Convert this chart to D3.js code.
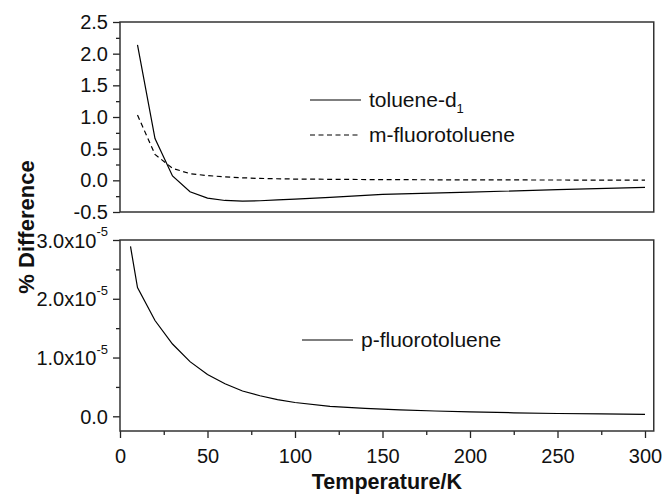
<!DOCTYPE html>
<html>
<head>
<meta charset="utf-8">
<script src="https://cdn.jsdelivr.net/npm/d3@7"></script>
<style>
  html, body { margin: 0; padding: 0; background: #fff; }
  svg text { font-family: "Liberation Sans", Arial, Helvetica, sans-serif; fill: #111; }
</style>
</head>
<body>
<svg id="chart" width="665" height="495"></svg>
<script>
// ---- Data ----
const tolueneT   = [10, 20, 30, 40, 50, 60, 70, 80, 90, 100, 120, 150, 200, 250, 300];
const tolueneVal = [2.14, 0.66, 0.07, -0.18, -0.28, -0.318, -0.328, -0.322, -0.31, -0.297, -0.27, -0.222, -0.185, -0.148, -0.11];

const mfluoroT   = [10, 20, 30, 40, 50, 60, 70, 80, 100, 150, 200, 250, 300];
const mfluoroVal = [1.03, 0.41, 0.19, 0.105, 0.075, 0.055, 0.04, 0.03, 0.02, 0.011, 0.007, 0.005, 0.004];

const pfluoroT   = [6, 10, 20, 30, 40, 50, 60, 70, 80, 90, 100, 120, 140, 160, 180, 200, 225, 250, 275, 300];
const pfluoroVal = [2.89e-5, 2.19e-5, 1.63e-5, 1.23e-5, 0.93e-5, 0.71e-5, 0.555e-5, 0.43e-5, 0.35e-5, 0.285e-5,
                    0.235e-5, 0.17e-5, 0.135e-5, 0.11e-5, 0.09e-5, 0.075e-5, 0.06e-5, 0.048e-5, 0.04e-5, 0.033e-5];

const xTicks      = [0, 50, 100, 150, 200, 250, 300];
const xMinorTicks = [25, 75, 125, 175, 225, 275];
const topYTicks   = [-0.5, 0.0, 0.5, 1.0, 1.5, 2.0, 2.5];
const topYLabels  = ["-0.5", "0.0", "0.5", "1.0", "1.5", "2.0", "2.5"];
const topYMinor   = [-0.25, 0.25, 0.75, 1.25, 1.75, 2.25];
const botYTicks   = [0, 1e-5, 2e-5, 3e-5];
const botYMant    = ["0.0", "1.0x10", "2.0x10", "3.0x10"];
const botYExp     = ["", "-5", "-5", "-5"];
const botYMinor   = [0.5e-5, 1.5e-5, 2.5e-5];

const legendTop = ["toluene-d", "m-fluorotoluene"];
const legendBot = ["p-fluorotoluene"];

// ---- Layout ----
const svg = d3.select("#chart");
const left = 120, right = 653.75;
const topPanel = {top: 22, bottom: 212};
const botPanel = {top: 240, bottom: 431};

const x = d3.scaleLinear().domain([0, 305]).range([left, right]);
const yTop = d3.scaleLinear().domain([-0.5, 2.5]).range([topPanel.bottom, topPanel.top]);
const yBot = d3.scaleLinear().domain([-0.25e-5, 3.0e-5]).range([botPanel.bottom, botPanel.top]);

const axisColor = "#222";

function styleAxis(g) {
  g.select(".domain").remove();
  g.selectAll(".tick line").attr("stroke", axisColor).attr("stroke-width", 1.3);
}

// Top panel y axis
svg.append("g").attr("transform", `translate(${left},0)`)
  .call(d3.axisLeft(yTop).tickValues(topYTicks).tickSize(7).tickPadding(5)
        .tickFormat((d, i) => topYLabels[i]))
  .call(styleAxis)
  .call(g => g.selectAll("text").attr("font-size", 20).attr("fill", "#111"));
svg.append("g").attr("transform", `translate(${left},0)`)
  .call(d3.axisLeft(yTop).tickValues(topYMinor).tickSize(4).tickFormat(""))
  .call(styleAxis);

// Bottom panel y axis
const botAxisG = svg.append("g").attr("transform", `translate(${left},0)`)
  .call(d3.axisLeft(yBot).tickValues(botYTicks).tickSize(7).tickFormat(""))
  .call(styleAxis);
botAxisG.selectAll(".tick").each(function(d, i) {
  const t = d3.select(this).append("text")
    .attr("x", -12).attr("dy", "0.35em")
    .attr("text-anchor", "end").attr("font-size", 20).attr("fill", "#111");
  t.append("tspan").text(botYMant[i]);
  if (botYExp[i]) {
    t.append("tspan").attr("font-size", 13).attr("dy", "-0.85em").text(botYExp[i]);
  }
});
svg.append("g").attr("transform", `translate(${left},0)`)
  .call(d3.axisLeft(yBot).tickValues(botYMinor).tickSize(4).tickFormat(""))
  .call(styleAxis);

// X axis (bottom panel)
svg.append("g").attr("transform", `translate(0,${botPanel.bottom})`)
  .call(d3.axisBottom(x).tickValues(xTicks).tickSize(7).tickPadding(11).tickFormat(d3.format("d")))
  .call(styleAxis)
  .call(g => g.selectAll("text").attr("font-size", 20).attr("fill", "#111"));
svg.append("g").attr("transform", `translate(0,${botPanel.bottom})`)
  .call(d3.axisBottom(x).tickValues(xMinorTicks).tickSize(4).tickFormat(""))
  .call(styleAxis);

// Frames
[topPanel, botPanel].forEach(p => {
  svg.append("rect")
    .attr("x", left).attr("y", p.top)
    .attr("width", right - left).attr("height", p.bottom - p.top)
    .attr("fill", "none").attr("stroke", "#333").attr("stroke-width", 1.5);
});

// Lines
const lineTop = d3.line().x(d => x(d[0])).y(d => yTop(d[1]));
const lineBot = d3.line().x(d => x(d[0])).y(d => yBot(d[1]));

svg.append("path").datum(d3.zip(tolueneT, tolueneVal))
  .attr("d", lineTop).attr("fill", "none").attr("stroke", "#000").attr("stroke-width", 1.2);
svg.append("path").datum(d3.zip(mfluoroT, mfluoroVal))
  .attr("d", lineTop).attr("fill", "none").attr("stroke", "#000").attr("stroke-width", 1.2)
  .attr("stroke-dasharray", "5,3.5");
svg.append("path").datum(d3.zip(pfluoroT, pfluoroVal))
  .attr("d", lineBot).attr("fill", "none").attr("stroke", "#000").attr("stroke-width", 1.2);

// Legends
function legendEntry(y, dashed, label, sub) {
  svg.append("line").attr("x1", 310).attr("x2", 361).attr("y1", y).attr("y2", y)
    .attr("stroke", "#000").attr("stroke-width", 1.2)
    .attr("stroke-dasharray", dashed ? "5,3.5" : null);
  const t = svg.append("text").attr("x", 369).attr("y", y).attr("dy", "0.35em")
    .attr("font-size", 21).attr("fill", "#111");
  t.append("tspan").text(label);
  if (sub) t.append("tspan").attr("font-size", 13).attr("dy", "0.45em").text(sub);
}
legendEntry(100, false, legendTop[0], "1");
legendEntry(135, true, legendTop[1], null);

svg.append("line").attr("x1", 302).attr("x2", 353).attr("y1", 340).attr("y2", 340)
  .attr("stroke", "#000").attr("stroke-width", 1.2);
svg.append("text").attr("x", 361).attr("y", 340).attr("dy", "0.35em")
  .attr("font-size", 21).attr("fill", "#111").text(legendBot[0]);

// Axis titles
svg.append("text").attr("x", (left + right) / 2).attr("y", 489)
  .attr("text-anchor", "middle").attr("font-size", 21.5).attr("font-weight", "bold")
  .text("Temperature/K");
svg.append("text").attr("transform", "translate(34,227) rotate(-90)")
  .attr("text-anchor", "middle").attr("font-size", 22).attr("font-weight", "bold")
  .text("% Difference");
</script>
</body>
</html>
